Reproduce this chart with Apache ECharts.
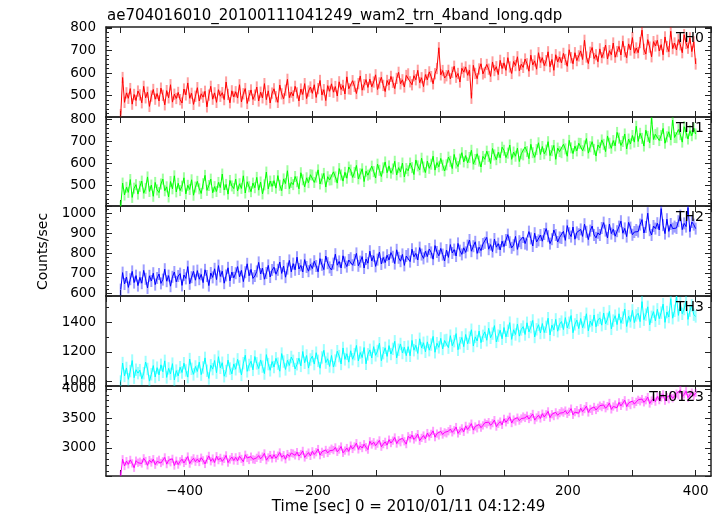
<!DOCTYPE html>
<html><head><meta charset="utf-8">
<script src="https://cdn.jsdelivr.net/npm/echarts@6/dist/echarts.min.js"></script>
<style>html,body{margin:0;padding:0;background:#fff}#c{width:722px;height:516px}</style>
</head><body><div id="c"></div>
<script>
const titleText = 'ae704016010_20100111041249_wam2_trn_4band_long.qdp';
const xTitle = 'Time [sec] 0 = 2010/01/11 04:12:49';
const yTitle = 'Counts/sec';
const bandNames = ['TH0', 'TH1', 'TH2', 'TH3', 'TH0123'];
const tStart = -500, tStep = 3;

const th0 = [
415,580,470,512,488,531,462,505,478,520,
503,468,541,490,515,452,498,527,484,509,
476,533,501,459,522,490,548,471,506,487,
514,482,467,529,503,556,488,510,461,497,
535,476,508,493,519,450,502,541,484,512,
470,526,497,513,482,560,505,468,521,494,
517,489,548,472,508,531,465,499,525,483,
502,538,476,515,490,553,482,521,467,511,
530,495,470,547,508,486,524,572,491,515,
498,541,512,476,529,505,553,487,520,538,
510,548,492,531,567,503,526,478,544,519,
552,515,540,498,561,527,545,507,583,530,
528,566,541,509,553,587,524,548,571,536,
573,539,560,592,527,556,581,545,518,567,
548,585,559,531,576,603,552,570,538,589,
596,561,548,588,570,612,557,579,540,593,
570,605,584,552,597,620,712,592,611,578,
588,612,574,603,630,581,598,560,621,604,
627,590,612,488,634,598,575,618,641,596,
602,638,617,585,649,611,628,593,656,620,
645,612,668,627,598,651,633,672,610,639,
625,662,641,608,679,636,654,617,690,647,
668,633,655,694,628,660,612,681,649,671,
645,687,660,630,703,668,641,690,655,676,
698,660,745,671,642,692,713,664,681,650,
707,668,690,724,662,699,681,733,670,695,
718,680,741,695,668,729,702,757,688,711,
690,735,790,705,684,748,715,672,739,720,
745,698,726,681,760,717,695,785,708,733,
702,748,725,690,770,731,710,756,695,738,
640];

const th1 = [
405,512,458,493,470,528,447,489,505,462,
497,521,466,488,540,474,503,452,515,481,
469,508,530,477,495,449,519,486,545,472,
511,478,498,536,463,502,483,527,457,494,
520,486,465,509,547,479,501,530,468,496,
474,515,492,553,481,506,462,524,499,487,
530,476,509,488,545,467,518,495,473,512,
491,538,480,517,463,504,562,486,521,497,
523,489,546,502,478,531,510,568,487,515,
505,542,518,486,559,527,495,536,514,550,
548,515,539,572,508,531,556,494,541,526,
527,563,540,512,578,549,521,561,534,585,
571,538,560,592,531,554,577,519,566,548,
553,589,564,535,598,570,542,581,608,559,
590,557,576,611,549,582,563,603,540,578,
568,603,582,551,617,590,572,625,585,560,
612,579,598,634,571,605,586,624,593,567,
595,630,611,578,642,603,587,621,650,608,
637,604,628,661,598,619,645,612,585,633,
620,657,633,601,669,640,618,652,627,675,
661,628,648,685,620,653,634,671,610,645,
640,676,655,623,688,650,629,664,695,642,
678,645,662,700,637,659,683,620,671,655,
650,688,667,634,706,672,646,680,658,693,
692,659,681,714,648,677,700,665,635,685,
672,708,688,655,726,693,670,705,681,742,
716,683,701,735,667,712,690,728,698,770,
701,738,715,680,752,724,695,806,710,733,
740,705,728,760,693,722,745,708,798,719,
718,755,732,698,768,740,712,750,727,762,
735];

const th2 = [
620,705,648,683,631,672,711,655,690,640,
681,652,716,674,628,689,663,702,645,678,
698,651,670,722,662,690,637,684,708,659,
688,700,641,693,676,735,649,682,711,667,
715,672,696,655,719,688,640,703,681,724,
670,740,686,712,652,691,729,664,708,679,
702,735,684,716,660,707,749,689,721,676,
688,711,756,698,727,672,703,741,683,718,
732,697,719,758,701,738,682,725,766,709,
750,719,782,723,741,708,770,733,712,746,
725,762,738,709,775,744,720,788,752,731,
718,750,797,742,761,728,789,756,735,768,
777,742,768,801,739,760,785,728,773,752,
812,763,789,736,770,808,748,781,755,792,
768,805,784,750,819,779,762,796,741,788,
797,760,822,784,801,768,830,795,776,812,
785,823,806,772,840,808,789,826,795,763,
818,781,845,803,820,788,851,815,796,829,
806,840,868,812,837,859,801,832,815,848,
854,881,822,845,810,873,832,850,818,862,
835,868,895,857,829,842,886,821,862,852,
883,850,845,910,876,838,902,858,866,893,
862,898,925,887,850,872,918,893,858,881,
878,911,866,940,902,885,933,872,906,897,
921,886,947,909,870,915,938,893,879,904,
893,928,955,915,878,948,900,922,887,912,
935,962,902,926,885,956,930,894,908,918,
910,945,970,903,933,1002,917,893,938,925,
952,918,1025,942,900,972,911,948,925,935,
928,962,990,920,951,935,1030,910,958,945,
925];

const th3 = [
1000,1125,1038,1092,1015,1071,1142,1026,1080,1057,
1077,1019,1056,1132,1085,1003,1049,1108,1031,1094,
1045,1113,1066,1140,1028,1089,1052,1121,1011,1074,
1038,1097,1061,1124,1075,1030,1152,1086,1049,1102,
1068,1131,1047,1095,1160,1073,1021,1110,1084,1142,
1060,1168,1093,1127,1036,1071,1145,1088,1052,1119,
1083,1150,1102,1045,1124,1178,1069,1112,1137,1079,
1169,1123,1088,1146,1101,1054,1182,1118,1076,1135,
1098,1157,1121,1070,1189,1135,1082,1144,1109,1166,
1140,1085,1117,1158,1106,1203,1127,1176,1091,1149,
1172,1118,1195,1140,1090,1163,1211,1128,1154,1102,
1176,1098,1142,1205,1172,1119,1227,1150,1188,1131,
1208,1151,1185,1244,1139,1196,1162,1230,1120,1184,
1214,1159,1236,1177,1206,1259,1141,1192,1228,1170,
1243,1186,1221,1272,1160,1215,1254,1193,1232,1175,
1236,1174,1278,1212,1245,1190,1289,1226,1262,1201,
1268,1212,1250,1305,1198,1259,1231,1292,1220,1277,
1281,1229,1310,1242,1273,1324,1215,1260,1298,1236,
1318,1255,1297,1350,1240,1302,1274,1341,1263,1309,
1336,1279,1360,1296,1324,1378,1268,1310,1347,1289,
1365,1302,1343,1398,1285,1350,1318,1389,1307,1352,
1371,1318,1397,1335,1368,1413,1301,1353,1384,1328,
1392,1331,1370,1428,1315,1381,1349,1420,1340,1388,
1405,1351,1432,1362,1397,1446,1330,1386,1415,1358,
1426,1364,1401,1458,1342,1409,1378,1450,1370,1416,
1430,1381,1463,1390,1423,1474,1356,1412,1445,1385,
1458,1394,1432,1490,1372,1441,1406,1481,1398,1447,
1461,1405,1540,1418,1452,1505,1383,1437,1472,1410,
1488,1425,1466,1523,1400,1470,1436,1560,1428,1478,
1575,1447,1530,1458,1490,1545,1420,1479,1515,1452,
1440];

const th0123 = [
2530,2805,2690,2772,2718,2794,2735,2660,2781,2745,
2763,2733,2821,2775,2701,2790,2749,2806,2712,2768,
2795,2741,2770,2836,2722,2788,2754,2812,2698,2779,
2714,2769,2805,2742,2776,2851,2730,2785,2820,2763,
2810,2758,2831,2786,2725,2802,2862,2771,2817,2749,
2857,2790,2828,2769,2812,2870,2748,2801,2842,2784,
2837,2779,2855,2810,2762,2881,2826,2792,2849,2803,
2795,2829,2867,2812,2850,2904,2789,2835,2876,2818,
2881,2823,2866,2920,2838,2874,2805,2893,2852,2911,
2902,2871,2926,2858,2893,2947,2835,2880,2918,2862,
2940,2886,2925,2978,2874,2931,2899,2963,2912,2950,
2984,2960,3006,2931,2970,3021,2914,2952,2995,2938,
3037,2980,3022,3078,2972,3031,2995,3060,3010,2968,
3110,3055,3094,3036,3070,3125,3018,3062,3101,3045,
3138,3080,3121,3175,3071,3128,3094,3160,3110,3062,
3196,3160,3215,3141,3177,3232,3120,3168,3208,3152,
3250,3192,3236,3287,3180,3242,3210,3278,3225,3262,
3245,3281,3318,3262,3298,3352,3244,3290,3330,3271,
3372,3312,3358,3410,3300,3362,3331,3396,3342,3380,
3425,3401,3436,3382,3418,3470,3360,3408,3445,3390,
3492,3433,3476,3526,3420,3480,3447,3512,3462,3497,
3531,3507,3545,3489,3522,3575,3470,3515,3552,3498,
3580,3524,3568,3618,3512,3570,3538,3602,3552,3588,
3620,3597,3632,3577,3612,3665,3560,3606,3640,3588,
3672,3615,3658,3708,3600,3660,3628,3694,3642,3680,
3716,3691,3728,3672,3708,3762,3652,3701,3735,3682,
3772,3712,3758,3808,3700,3760,3726,3795,3742,3780,
3815,3790,3828,3772,3808,3862,3752,3802,3838,3784,
3872,3810,3856,3908,3800,3860,3826,3894,3842,3880,
3920,3892,3985,3870,3908,3962,3852,3902,3938,3885,
3930];

const bandValues = [th0, th1, th2, th3, th0123];
const bandErr = [25, 25, 30, 42, 70];
const yMin = [405, 408, 588, 970, 2520];
const yMax = [804, 812, 1038, 1578, 4050];
const yLabelStep = [100, 100, 100, 200, 500];
const yMinorSplit = [5, 5, 5, 2, 5];
const xMin = -523, xMax = 424, xTickStep = 100, xLabelStep = 200;

// styling
const lineColors = ['#ff0000', '#00ff00', '#0000ff', '#00ffff', '#ff00ff'];
const errColors = ['rgba(255,0,0,0.38)', 'rgba(0,255,0,0.38)', 'rgba(0,0,255,0.38)', 'rgba(0,255,255,0.38)', 'rgba(255,0,255,0.38)'];
const FONT = 'DejaVu Sans';
const tops = [27, 117, 206, 296, 386, 476];
const plotLeft = 106, plotRight = 711;
const frameColor = '#222';

const grids = [], xAxes = [], yAxes = [], series = [], graphics = [];
for (let i = 0; i < 5; i++) {
  grids.push({ left: plotLeft, width: plotRight - plotLeft, top: tops[i], height: tops[i + 1] - tops[i], containLabel: false });
  const last = i === 4;
  const xCommon = {
    type: 'value', gridIndex: i, min: xMin, max: xMax, minInterval: xTickStep, maxInterval: xTickStep, splitNumber: 9,
    axisLine: { show: true, onZero: false, lineStyle: { color: frameColor, width: 1.5 } },
    axisTick: { show: true, inside: true, length: 6, lineStyle: { color: frameColor, width: 1 } },
    splitLine: { show: false }
  };
  xAxes.push(Object.assign({}, xCommon, {
    position: 'bottom',
    axisLabel: {
      show: last, margin: 8, fontFamily: FONT, fontSize: 13.5, color: '#000',
      showMinLabel: false, showMaxLabel: false,
      formatter: v => (v % xLabelStep === 0 ? String(v).replace('-', '\u2212') : '')
    },
    name: last ? xTitle : '', nameLocation: 'middle', nameGap: 24,
    nameTextStyle: { fontFamily: FONT, fontSize: 15, color: '#000' }
  }));
  xAxes.push(Object.assign({}, xCommon, { position: 'top', axisLabel: { show: false } }));
  const step = yLabelStep[i];
  const yCommon = {
    type: 'value', gridIndex: i, min: yMin[i], max: yMax[i], minInterval: step, maxInterval: step, splitNumber: 4,
    axisLine: { show: true, onZero: false, lineStyle: { color: frameColor, width: 1.5 } },
    axisTick: { show: true, inside: true, length: 6, lineStyle: { color: frameColor, width: 1 } },
    minorTick: { show: true, splitNumber: yMinorSplit[i], length: 3, lineStyle: { color: frameColor, width: 1 } },
    splitLine: { show: false }, minorSplitLine: { show: false }
  };
  yAxes.push(Object.assign({}, yCommon, {
    position: 'left',
    axisLabel: {
      show: true, margin: 10, fontFamily: FONT, fontSize: 13.5, color: '#000',
      showMinLabel: false, showMaxLabel: true,
      formatter: v => (v % step === 0 ? String(v) : '')
    }
  }));
  yAxes.push(Object.assign({}, yCommon, { position: 'right', axisLabel: { show: false } }));

  const pts = bandValues[i].map((v, k) => [tStart + k * tStep, v]);
  const err = bandErr[i];
  series.push({
    type: 'custom', xAxisIndex: 2 * i, yAxisIndex: 2 * i, clip: true, silent: true,
    data: pts,
    renderItem: (params, api) => {
      const x = api.value(0), y = api.value(1);
      const p1 = api.coord([x, y - err]);
      const p2 = api.coord([x, y + err]);
      return { type: 'line', shape: { x1: p1[0], y1: p1[1], x2: p2[0], y2: p2[1] }, style: { stroke: errColors[i], lineWidth: 2 } };
    }
  });
  series.push({
    type: 'line', name: bandNames[i], xAxisIndex: 2 * i, yAxisIndex: 2 * i, data: pts,
    showSymbol: false, symbol: 'none', clip: true, silent: true,
    lineStyle: { color: lineColors[i], width: 1 }
  });
  graphics.push({
    type: 'text', x: 704, y: tops[i] + 11, z: 100,
    style: { text: bandNames[i], font: '14px "' + FONT + '"', fill: '#000', align: 'right', verticalAlign: 'middle' }
  });
}
graphics.push({
  type: 'text', x: 43, y: (tops[0] + tops[5]) / 2, rotation: Math.PI / 2, z: 100,
  style: { text: yTitle, font: '14px "' + FONT + '"', fill: '#000', align: 'center', verticalAlign: 'middle' }
});

const chart = echarts.init(document.getElementById('c'), null, { renderer: 'canvas' });
chart.setOption({
  animation: false,
  backgroundColor: '#fff',
  title: { text: titleText, left: 102, top: 4, textStyle: { fontFamily: FONT, fontSize: 15, fontWeight: 'normal', color: '#000' } },
  grid: grids, xAxis: xAxes, yAxis: yAxes, series: series, graphic: graphics
});
</script></body></html>
